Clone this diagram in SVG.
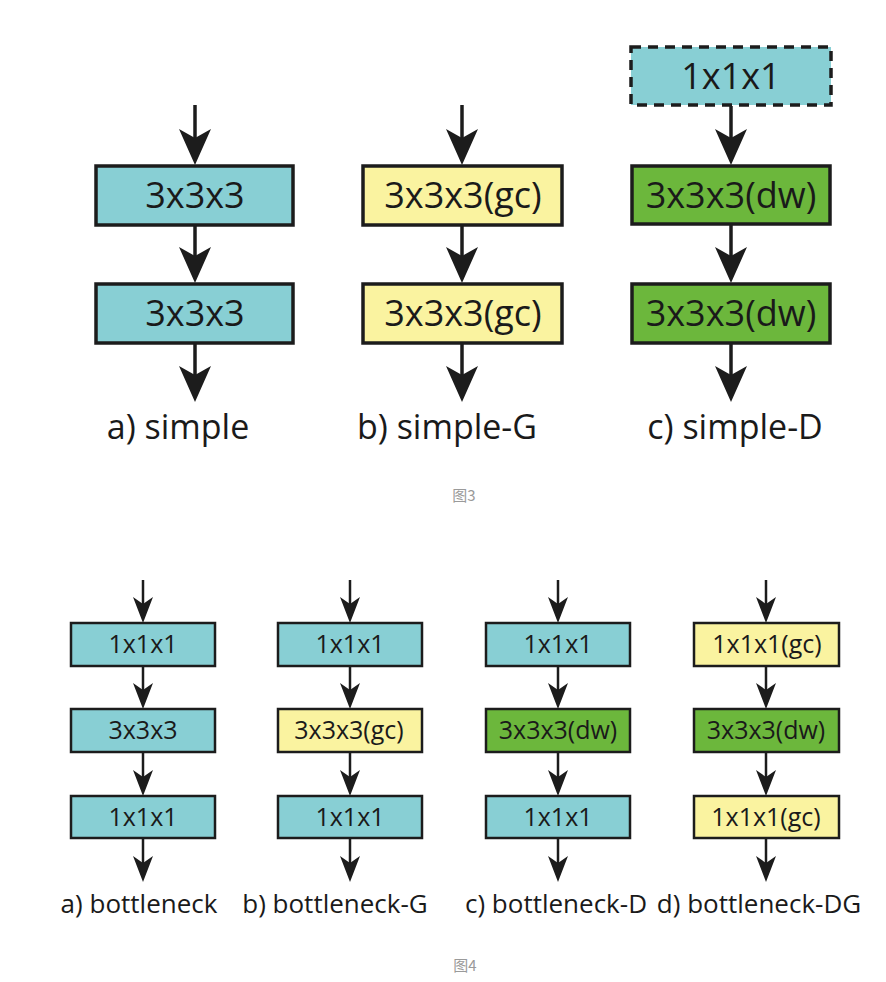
<svg xmlns="http://www.w3.org/2000/svg" width="886" height="982" viewBox="0 0 886 982">
<style>
.bg{fill:#ffffff}
.box{stroke:#1c1c1c;stroke-width:3.5}
.sbox{stroke:#1c1c1c;stroke-width:2.5}
.cyan{fill:#88CFD4}
.yel{fill:#FAF3A0}
.grn{fill:#6CB73C}
.dash{stroke-dasharray:10 7}
.t{font-family:"Open Sans","Noto Sans",sans-serif;fill:#1a1a1a;text-anchor:middle}
.tb{font-size:36px}
.ts{font-size:25px}
.lb{font-size:34px}
.ls{font-size:26px}
.cap{font-family:"Noto Sans CJK SC","Noto Sans",sans-serif;font-size:15px;fill:#9a9a9a;text-anchor:middle}
.ab{stroke:#1c1c1c;stroke-width:3.5;fill:none;marker-end:url(#mb)}
.as{stroke:#1c1c1c;stroke-width:2.5;fill:none;marker-end:url(#ms)}
</style>
<defs>
<marker id="mb" markerUnits="userSpaceOnUse" viewBox="-36 -16 37 32" markerWidth="37" markerHeight="32" refX="-20" refY="0" orient="auto">
<path d="M0,0 L-36,-16 L-27,0 L-36,16 Z" fill="#1c1c1c"/>
</marker>
<marker id="ms" markerUnits="userSpaceOnUse" viewBox="-26 -10 27 20" markerWidth="27" markerHeight="20" refX="-14" refY="0" orient="auto">
<path d="M0,0 L-26,-10 L-19,0 L-26,10 Z" fill="#1c1c1c"/>
</marker>
</defs>
<rect class="bg" x="0" y="0" width="886" height="982"/>

<g id="connectors">
<line class="ab" x1="195" y1="105" x2="195" y2="145"/>
<line class="ab" x1="195" y1="226" x2="195" y2="263"/>
<line class="ab" x1="195" y1="344" x2="195" y2="382"/>
<line class="ab" x1="462" y1="105" x2="462" y2="145"/>
<line class="ab" x1="462" y1="226" x2="462" y2="263"/>
<line class="ab" x1="462" y1="344" x2="462" y2="382"/>
<line class="ab" x1="731" y1="106" x2="731" y2="145"/>
<line class="ab" x1="731" y1="225" x2="731" y2="263"/>
<line class="ab" x1="731" y1="344" x2="731" y2="382"/>

<line class="as" x1="143" y1="580" x2="143" y2="609"/>
<line class="as" x1="143" y1="667" x2="143" y2="695"/>
<line class="as" x1="143" y1="753" x2="143" y2="782"/>
<line class="as" x1="143" y1="839" x2="143" y2="868"/>
<line class="as" x1="350" y1="580" x2="350" y2="609"/>
<line class="as" x1="350" y1="667" x2="350" y2="695"/>
<line class="as" x1="350" y1="753" x2="350" y2="782"/>
<line class="as" x1="350" y1="839" x2="350" y2="868"/>
<line class="as" x1="558" y1="580" x2="558" y2="609"/>
<line class="as" x1="558" y1="667" x2="558" y2="695"/>
<line class="as" x1="558" y1="753" x2="558" y2="782"/>
<line class="as" x1="558" y1="839" x2="558" y2="868"/>
<line class="as" x1="766" y1="580" x2="766" y2="609"/>
<line class="as" x1="766" y1="667" x2="766" y2="695"/>
<line class="as" x1="766" y1="753" x2="766" y2="782"/>
<line class="as" x1="766" y1="839" x2="766" y2="868"/>
</g>

<g id="a1"><rect class="box cyan" x="96" y="166" width="197" height="59"/><text class="t tb" x="195" y="208">3x3x3</text></g>
<g id="a2"><rect class="box cyan" x="96" y="284" width="197" height="59"/><text class="t tb" x="195" y="326">3x3x3</text></g>
<g id="b1"><rect class="box yel" x="363" y="166" width="199" height="59"/><text class="t tb" x="463" y="208">3x3x3(gc)</text></g>
<g id="b2"><rect class="box yel" x="363" y="284" width="199" height="59"/><text class="t tb" x="463" y="326">3x3x3(gc)</text></g>
<g id="c0"><rect class="box cyan dash" x="631" y="47" width="200" height="58"/><text class="t tb" x="731" y="89">1x1x1</text></g>
<g id="c1"><rect class="box grn" x="632" y="166" width="198" height="58"/><text class="t tb" x="731" y="208">3x3x3(dw)</text></g>
<g id="c2"><rect class="box grn" x="632" y="284" width="198" height="59"/><text class="t tb" x="731" y="326">3x3x3(dw)</text></g>

<text class="t lb" x="178" y="439">a) simple</text>
<text class="t lb" x="447" y="439">b) simple-G</text>
<text class="t lb" x="735" y="439">c) simple-D</text>
<text class="cap" x="464" y="501">图3</text>

<g id="ba1"><rect class="sbox cyan" x="71" y="623" width="144" height="43"/><text class="t ts" x="143" y="653">1x1x1</text></g>
<g id="ba2"><rect class="sbox cyan" x="71" y="709" width="144" height="43"/><text class="t ts" x="143" y="739">3x3x3</text></g>
<g id="ba3"><rect class="sbox cyan" x="71" y="796" width="144" height="42"/><text class="t ts" x="143" y="826">1x1x1</text></g>

<g id="bb1"><rect class="sbox cyan" x="278" y="623" width="144" height="43"/><text class="t ts" x="350" y="653">1x1x1</text></g>
<g id="bb2"><rect class="sbox yel" x="278" y="709" width="144" height="43"/><text class="t ts" x="349" y="739">3x3x3(gc)</text></g>
<g id="bb3"><rect class="sbox cyan" x="278" y="796" width="144" height="42"/><text class="t ts" x="350" y="826">1x1x1</text></g>

<g id="bc1"><rect class="sbox cyan" x="486" y="623" width="144" height="43"/><text class="t ts" x="558" y="653">1x1x1</text></g>
<g id="bc2"><rect class="sbox grn" x="486" y="709" width="144" height="43"/><text class="t ts" x="558" y="739">3x3x3(dw)</text></g>
<g id="bc3"><rect class="sbox cyan" x="486" y="796" width="144" height="42"/><text class="t ts" x="558" y="826">1x1x1</text></g>

<g id="bd1"><rect class="sbox yel" x="694" y="623" width="145" height="43"/><text class="t ts" x="767" y="653">1x1x1(gc)</text></g>
<g id="bd2"><rect class="sbox grn" x="694" y="709" width="145" height="43"/><text class="t ts" x="766" y="739">3x3x3(dw)</text></g>
<g id="bd3"><rect class="sbox yel" x="694" y="796" width="145" height="42"/><text class="t ts" x="766" y="826">1x1x1(gc)</text></g>

<text class="t ls" x="139" y="913">a) bottleneck</text>
<text class="t ls" x="335" y="913">b) bottleneck-G</text>
<text class="t ls" x="556" y="913">c) bottleneck-D</text>
<text class="t ls" x="759" y="913">d) bottleneck-DG</text>
<text class="cap" x="465" y="971">图4</text>
</svg>
